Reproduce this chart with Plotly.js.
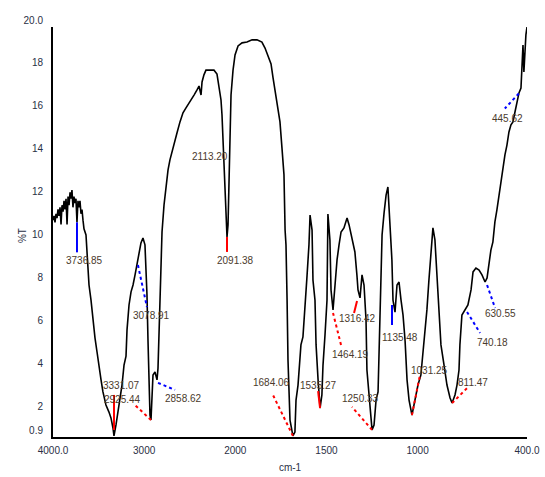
<!DOCTYPE html>
<html><head><meta charset="utf-8">
<script src="https://cdn.plot.ly/plotly-3.0.1.min.js"></script>
<style>html,body{margin:0;padding:0;background:#fff}#chart{width:545px;height:477px}</style>
</head><body><div id="chart"></div>
<script>
// ---- spectrum (wavenumber in cm-1, transmittance in %T) ----
const wavenumber = [
4000,3989,3978,3967,3956,3945,3934,3923,3912,3901,3890,3879,3868,3857,3846,3835,3824,3813,3803,3792,
3781,3770,3759,3748,3737,3726,3715,3704,3693,3682,3671,3660,3638,3627,3616,3605,3583,3561,3539,3517,
3495,3473,3452,3419,3386,3364,3342,3331,3309,3287,3265,3243,3221,3199,3188,3166,3144,3122,3100,3079,
3057,3035,3013,2991,2980,2969,2958,2947,2936,2925,2914,2903,2881,2859,2848,2837,2826,2815,2804,2782,
2760,2738,2717,2684,2640,2607,2574,2541,2497,2453,2420,2398,2376,2365,2344,2322,2278,2234,2201,2179,
2157,2146,2135,2124,2113,2102,2091,2080,2069,2058,2047,2025,2003,1985,1963,1936,1908,1881,1854,1837,
1821,1804,1793,1777,1766,1755,1744,1733,1727,1722,1716,1711,1700,1689,1684,1673,1667,1656,1640,1629,
1618,1607,1596,1590,1579,1574,1563,1557,1546,1535,1525,1519,1508,1497,1492,1481,1475,1464,1453,1442,
1431,1420,1404,1387,1376,1365,1354,1344,1333,1327,1316,1305,1294,1283,1278,1267,1261,1250,1239,1228,
1217,1206,1195,1184,1173,1163,1157,1152,1141,1135,1124,1113,1102,1091,1080,1069,1058,1047,1036,1031,
1020,1009,998,982,971,960,949,938,927,916,905,894,883,872,855,839,822,811,795,784,
773,768,757,740,724,707,696,680,663,647,630,619,609,598,587,576,565,554,543,532,
521,510,499,488,477,466,455,444,433,428,422,417,411,406,400];
const transmittance = [
11.0,11.2,10.9,11.3,11.1,11.5,11.2,11.6,10.8,11.7,11.4,11.9,11.5,12.0,10.8,12.1,11.7,12.3,12.0,12.4,
11.6,12.1,11.8,12.0,10.9,11.9,11.6,11.9,11.3,11.5,11.0,10.6,10.31,9.61,8.91,7.98,7.28,6.35,5.51,4.86,
4.11,3.56,3.00,2.39,2.06,1.79,1.32,0.95,1.46,2.06,2.62,3.32,4.25,4.67,5.89,7.05,7.66,7.98,8.45,8.91,
9.38,9.94,10.17,9.85,8.68,7.52,5.42,4.02,1.92,1.69,2.62,3.79,3.93,3.56,4.11,5.89,7.52,9.15,10.45,11.71,
12.64,13.34,13.81,14.41,15.06,15.58,16.00,16.23,16.51,16.83,17.07,17.25,16.83,17.44,17.77,17.99,17.99,17.99,17.81,17.30,
16.60,15.90,14.74,13.34,11.94,10.78,10.22,10.78,12.87,15.20,16.83,17.99,18.70,19.12,19.26,19.30,19.40,19.40,19.30,19.02,
18.65,18.28,17.63,16.83,16.23,15.58,14.36,13.11,10.54,9.85,7.28,4.49,1.69,1.13,0.95,1.13,2.62,3.32,5.19,5.56,
7.28,8.35,9.85,11.24,10.54,8.21,7.28,5.19,3.56,2.25,2.86,4.25,5.65,7.28,11.29,10.08,7.75,6.82,7.98,9.15,
9.85,10.45,10.64,11.10,10.78,10.31,9.85,9.52,8.45,7.75,7.38,8.45,7.98,6.35,4.02,2.86,2.16,1.23,1.46,2.62,
3.00,7.28,10.31,11.34,12.17,12.55,11.71,10.78,9.15,7.28,6.72,7.98,8.12,7.28,6.58,5.42,3.56,2.62,2.16,1.92,
2.39,2.86,3.32,3.79,4.72,5.89,6.82,8.21,9.61,10.64,10.08,8.45,7.05,5.19,4.25,3.32,2.72,2.48,2.86,3.32,
4.02,5.19,6.58,6.82,7.05,7.75,8.59,8.77,8.68,8.45,8.12,8.31,8.91,9.61,9.99,10.92,11.48,12.17,12.78,13.43,
14.04,14.50,15.11,15.44,15.58,16.04,16.51,16.93,17.16,17.99,19.16,17.91,18.93,19.63,20.0];

// ---- labelled peaks ----
const peakWavenumber = [3737,3331,2925,2859,3079,2113,2091,1684,1535,1316,1464,1250,1135,1031,811,740,630,445];
const peakTransmittance = [10.9,0.95,1.69,3.56,8.91,11.94,10.22,0.95,2.25,7.38,6.82,1.23,7.05,1.92,2.48,6.82,8.12,16.9];
const peakLabels = ["3736.85","3331.07","2925.44","2858.62","3078.91","2113.20","2091.38","1684.06","1535.27",
                    "1316.42","1464.19","1250.33","1135.48","1031.25","811.47","740.18","630.55","445.62"];

// ---- axis ticks ----
const xTickWavenumber = [4000,3000,2000,1500,1000,400];
const xTickLabels = ["4000.0","3000","2000","1500","1000","400.0"];
const yTickValues = [0.9,2,4,6,8,10,12,14,16,18,20];
const yTickLabels = ["0.9","2","4","6","8","10","12","14","16","18","20.0"];

// ---- styling of each peak marker: label offset and leader line (screen px, y down) ----
const RED = '#ff0000', BLUE = '#0000ff';
const peakStyle = [
  {c:BLUE, lab:[8,38],   ln:[0,0,0,30],    d:'solid'},
  {c:RED,  lab:[8,-50],  ln:[0,-6,0,-41],  d:'solid'},
  {c:RED,  lab:[-28,-21],ln:[0,0,-16,-15], d:'dot'},
  {c:BLUE, lab:[26,19],  ln:[1,3,18,10],   d:'dot'},
  {c:BLUE, lab:[15,50],  ln:[1,0,10,42],   d:'dot'},
  {c:null, lab:[-15,-44],ln:null,          d:'solid'},
  {c:RED,  lab:[8,24],   ln:[0,0,0,15],    d:'solid'},
  {c:RED,  lab:[-21,-53],ln:[0,0,-20,-41], d:'dot'},
  {c:RED,  lab:[-2,-23], ln:[0,0,-2,-17],  d:'solid'},
  {c:RED,  lab:[-3,21],  ln:[-3,3,-6,15],  d:'solid'},
  {c:RED,  lab:[17,45],  ln:[0,3,8,35],    d:'dot'},
  {c:RED,  lab:[-12,-31],ln:[0,0,-20,-23], d:'dot'},
  {c:BLUE, lab:[7,33],   ln:[-1,0,-1,20],  d:'solid'},
  {c:RED,  lab:[18,-45], ln:[0,0,8,-40],   d:'dot'},
  {c:RED,  lab:[21,-21], ln:[0,0,15,-15],  d:'dot'},
  {c:BLUE, lab:[27,33],  ln:[2,2,15,23],   d:'dot'},
  {c:BLUE, lab:[15,31],  ln:[2,3,10,26],   d:'dot'},
  {c:BLUE, lab:[-11,25], ln:[0,0,-14,15],  d:'dot'}
];

// Split wavenumber scale: 4000-2000 compressed by 2 relative to 2000-400
function scaleX(wn){ return wn >= 2000 ? 2000 + (wn - 2000) / 2 : wn; }

const trace = {
  x: wavenumber.map(scaleX), y: transmittance,
  type: 'scatter', mode: 'lines',
  line: {color: '#000000', width: 1.6},
  hoverinfo: 'skip', cliponaxis: false
};

const FONT = 'Liberation Sans, Arial, sans-serif';
const shapes = [], annotations = [];
peakWavenumber.forEach((wn, i) => {
  const s = peakStyle[i];
  const xa = scaleX(wn), ya = peakTransmittance[i];
  if (s.ln) {
    shapes.push({type:'line', xref:'x', yref:'y', xsizemode:'pixel', ysizemode:'pixel',
      xanchor: xa, yanchor: ya, x0: s.ln[0], y0: -s.ln[1], x1: s.ln[2], y1: -s.ln[3],
      line:{color:s.c, width:2, dash:s.d}});
  }
  annotations.push({x: xa, y: ya, xref:'x', yref:'y', text: peakLabels[i], showarrow:false,
    xshift: s.lab[0], yshift: -s.lab[1], xanchor:'center', yanchor:'middle',
    font:{family:FONT, size:10, color:'#4a3a2c'}});
});
// y-axis title
annotations.push({xref:'paper', yref:'paper', x:0, y:0.49, xshift:-31, text:'%T', textangle:-90,
  showarrow:false, xanchor:'center', yanchor:'middle', font:{family:FONT, size:10, color:'#2a2f45'}});

const layout = {
  width: 545, height: 477,
  margin: {l:53, r:18, t:27, b:40},
  paper_bgcolor:'#ffffff', plot_bgcolor:'#ffffff',
  showlegend:false,
  font:{family:FONT, size:10, color:'#2a2f45'},
  xaxis:{
    range:[scaleX(4000), scaleX(400)],
    tickvals: xTickWavenumber.map(scaleX), ticktext: xTickLabels,
    showgrid:false, zeroline:false, showline:true, linecolor:'#000', linewidth:2,
    ticks:'', ticklabelstandoff:3, tickfont:{size:10},
    title:{text:'cm-1', font:{size:10}, standoff:9}
  },
  yaxis:{
    range:[0.9, 20.0],
    tickvals: yTickValues, ticktext: yTickLabels,
    showgrid:false, zeroline:false, showline:true, linecolor:'#000', linewidth:2,
    ticks:'', ticklabelstandoff:6, ticklabelshift:-7, tickfont:{size:10}
  },
  shapes: shapes,
  annotations: annotations
};

Plotly.newPlot('chart', [trace], layout, {displayModeBar:false, staticPlot:true});
</script>
</body></html>
